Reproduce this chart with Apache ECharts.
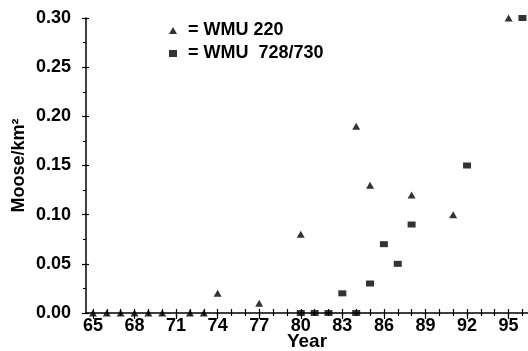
<!DOCTYPE html>
<html>
<head>
<meta charset="utf-8">
<script src="https://cdn.jsdelivr.net/npm/echarts@6/dist/echarts.min.js"></script>
<style>html,body{margin:0;padding:0;background:#fff}#c{width:528px;height:351px}</style>
</head>
<body>
<div id="c"></div>
<script>
const seriesNames = ['WMU 220', 'WMU  728/730'];
const wmu220Years = [65, 66, 67, 68, 69, 70, 72, 73, 74, 77, 80, 84, 85, 88, 91, 95];
const wmu220Values = [0, 0, 0, 0, 0, 0, 0, 0, 0.02, 0.01, 0.08, 0.19, 0.13, 0.12, 0.10, 0.30];
const wmu728Years = [80, 81, 82, 83, 84, 85, 86, 87, 88, 92, 96];
const wmu728Values = [0, 0, 0, 0.02, 0, 0.03, 0.07, 0.05, 0.09, 0.15, 0.30];
const xTickYears = [65,66,67,68,69,70,71,72,73,74,75,76,77,78,79,80,81,82,83,84,85,86,87,88,89,90,91,92,93,94,95,96];
const xLabelYears = [65, 68, 71, 74, 77, 80, 83, 86, 89, 92, 95];
const yTickValues = [0, 0.05, 0.10, 0.15, 0.20, 0.25, 0.30];

const font = 'Liberation Sans, Arial, sans-serif';
const pair = (xs, ys) => xs.map((x, i) => [x, ys[i]]);

const xBase = {
  type: 'value', min: 64.5, max: 96.4, position: 'bottom',
  splitLine: { show: false }
};
const chart = echarts.init(document.getElementById('c'));
chart.setOption({
  animation: false,
  backgroundColor: '#fff',
  grid: { left: 86, right: 0, top: 18, bottom: 38, containLabel: false, outerBoundsMode: 'none' },
  legend: {
    orient: 'vertical', left: 164, top: 16, itemGap: 4,
    itemWidth: 8, itemHeight: 7,
    formatter: n => '= ' + n,
    textStyle: { fontFamily: font, fontWeight: 'bold', fontSize: 18, color: '#000', lineHeight: 19, padding: [0, 0, 0, 6] },
    data: [
      { name: seriesNames[0], icon: 'triangle' },
      { name: seriesNames[1], icon: 'rect' }
    ]
  },
  xAxis: [
    Object.assign({}, xBase, {
      name: 'Year', nameLocation: 'middle', nameGap: 19, nameMoveOverlap: false,
      nameTextStyle: { fontFamily: font, fontWeight: 'bold', fontSize: 19, color: '#000' },
      axisLine: { lineStyle: { color: '#000', width: 1.5 } },
      axisTick: { show: true, inside: false, length: 6, customValues: xLabelYears, lineStyle: { color: '#000', width: 1.2 } },
      axisLabel: { customValues: xLabelYears, margin: 4, fontFamily: font, fontWeight: 'bold', fontSize: 18, color: '#000' }
    }),
    Object.assign({}, xBase, {
      axisLine: { show: false },
      axisTick: { show: true, inside: false, length: 3, customValues: xTickYears, lineStyle: { color: '#000', width: 1.2 } },
      axisLabel: { show: false }
    }),
    Object.assign({}, xBase, {
      axisLine: { show: false },
      axisTick: { show: true, inside: true, length: 4, customValues: xTickYears, lineStyle: { color: '#000', width: 1.2 } },
      axisLabel: { show: false }
    })
  ],
  yAxis: [
    {
      type: 'value', min: 0, max: 0.3, interval: 0.05,
      name: 'Moose/km²', nameLocation: 'middle', nameGap: 58, nameRotate: 90, nameMoveOverlap: false,
      nameTextStyle: { fontFamily: font, fontWeight: 'bold', fontSize: 18, color: '#000' },
      splitLine: { show: false },
      axisLine: { show: true, lineStyle: { color: '#000', width: 1.5 } },
      axisTick: { show: true, inside: false, length: 4, lineStyle: { color: '#000', width: 1.2 } },
      minorTick: { show: true, splitNumber: 2, length: 3, lineStyle: { color: '#000', width: 1 } },
      axisLabel: { customValues: yTickValues, margin: 15, fontFamily: font, fontWeight: 'bold', fontSize: 18, color: '#000', formatter: v => v.toFixed(2) }
    },
    {
      type: 'value', min: 0, max: 0.3, interval: 0.05, position: 'left',
      splitLine: { show: false },
      axisLine: { show: false },
      axisTick: { show: true, inside: true, length: 3, lineStyle: { color: '#000', width: 1.2 } },
      axisLabel: { show: false }
    }
  ],
  series: [
    {
      name: seriesNames[0], type: 'scatter', symbol: 'triangle', symbolSize: [8, 7],
      itemStyle: { color: '#000' }, data: pair(wmu220Years, wmu220Values), z: 5
    },
    {
      name: seriesNames[1], type: 'scatter', symbol: 'rect', symbolSize: [8, 6],
      itemStyle: { color: '#000' }, data: pair(wmu728Years, wmu728Values), z: 5
    }
  ]
});
</script>
</body>
</html>
